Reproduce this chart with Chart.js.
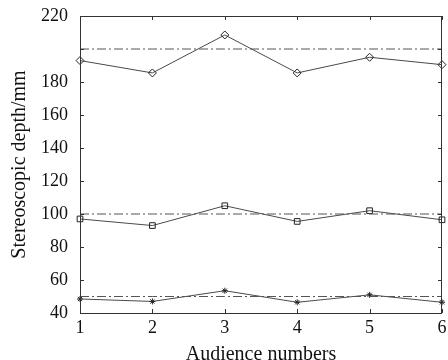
<!DOCTYPE html>
<html>
<script src="https://cdn.jsdelivr.net/npm/chart.js@4.4.0/dist/chart.umd.min.js"></script>
<body style="margin:0;background:#fff">

<canvas id="depthChart" width="448" height="360"></canvas>

<script>

    // audience numbers on the x axis
    let audience = ["1", "2", "3", "4", "5", "6"];

    // measured stereoscopic depth for each audience member (mm)
    let depthFar = [193, 185.5, 208.5, 185.5, 195, 190.5];
    let depthMid = [97, 93, 105, 95.5, 102, 96.5];
    let depthNear = [48.5, 47, 53.5, 46.5, 51, 46.5];

    // theoretical depth (dash-dot lines)
    let theoryFar = [200, 200, 200, 200, 200, 200];
    let theoryMid = [100, 100, 100, 100, 100, 100];
    let theoryNear = [50, 50, 50, 50, 50, 50];

    // y tick labels as printed (the 200 label is missing in the figure)
    let yTickValues = [40, 60, 80, 100, 120, 140, 160, 180, 200, 220];
    let yTickLabels = ["40", "60", "80", "100", "120", "140", "160", "180", "", "220"];

    let lineColor = "#4a4a4a";
    let textColor = "#111";
    let serif = "'Liberation Serif', 'DejaVu Serif', serif";

    // frame and inward ticks like the matlab figure
    let framePlugin = {
        id: "frame",
        afterDatasetsDraw(chart) {
            let ctx = chart.ctx;
            let a = chart.chartArea;
            let x = chart.scales.x;
            let y = chart.scales.y;
            ctx.save();
            ctx.strokeStyle = "#333";
            ctx.lineWidth = 1;
            ctx.strokeRect(a.left + 0.5, a.top + 0.5, a.right - a.left - 1, a.bottom - a.top);
            ctx.beginPath();
            for (let i = 0; i < audience.length; i++) {
                let px = Math.round(x.getPixelForValue(i)) + 0.5;
                ctx.moveTo(px, a.bottom);
                ctx.lineTo(px, a.bottom - 4);
                ctx.moveTo(px, a.top);
                ctx.lineTo(px, a.top + 4);
            }
            for (let i = 0; i < yTickValues.length; i++) {
                let py = Math.round(y.getPixelForValue(yTickValues[i])) + 0.5;
                ctx.moveTo(a.left, py);
                ctx.lineTo(a.left + 4, py);
                ctx.moveTo(a.right, py);
                ctx.lineTo(a.right - 4, py);
            }
            ctx.stroke();
            ctx.restore();
        }
    };

    function measured(data, style, radius) {
        return {
            data: data,
            borderColor: lineColor,
            borderWidth: 1,
            pointStyle: style,
            pointRadius: radius,
            pointBorderColor: "#222",
            pointBackgroundColor: style === "star" ? "#222" : "rgba(255,255,255,0)",
            pointBorderWidth: 1,
            fill: false,
            tension: 0
        };
    }

    function theory(data) {
        return {
            data: data,
            borderColor: "#555",
            borderWidth: 1,
            borderDash: [9, 3, 2, 3],
            pointRadius: 0,
            fill: false
        };
    }

    new Chart("depthChart", {
        type: "line",
        data: {
            labels: audience,
            datasets: [
                theory(theoryFar),
                theory(theoryMid),
                theory(theoryNear),
                measured(depthFar, "rectRot", 4),
                measured(depthMid, "rect", 4),
                measured(depthNear, "star", 3)
            ]
        },
        options: {
            responsive: false,
            animation: false,
            layout: {padding: {left: 0, right: 6, top: 16, bottom: 0}},
            plugins: {
                legend: {display: false},
                tooltip: {enabled: false}
            },
            scales: {
                x: {
                    offset: false,
                    grid: {display: false},
                    border: {display: false},
                    ticks: {
                        color: textColor,
                        font: {family: serif, size: 18, lineHeight: 1},
                        padding: -2,
                        maxRotation: 0
                    },
                    title: {
                        display: true,
                        text: "Audience numbers",
                        color: textColor,
                        font: {family: serif, size: 20, lineHeight: 1},
                        padding: {top: 0, bottom: -5}
                    },
                    afterFit(scale) { scale.height = 47; }
                },
                y: {
                    min: 40,
                    max: 220,
                    grid: {display: false},
                    border: {display: false},
                    afterBuildTicks(scale) {
                        scale.ticks = yTickValues.map(v => ({value: v}));
                    },
                    ticks: {
                        color: textColor,
                        font: {family: serif, size: 18},
                        padding: 4,
                        callback: function (value) {
                            return yTickLabels[yTickValues.indexOf(value)];
                        }
                    },
                    title: {
                        display: true,
                        text: "Stereoscopic depth/mm",
                        color: textColor,
                        font: {family: serif, size: 20},
                        padding: {top: 8, bottom: 4}
                    },
                    afterFit(scale) { scale.width = 80; }
                }
            }
        },
        plugins: [framePlugin]
    });

</script>
</body>
</html>
